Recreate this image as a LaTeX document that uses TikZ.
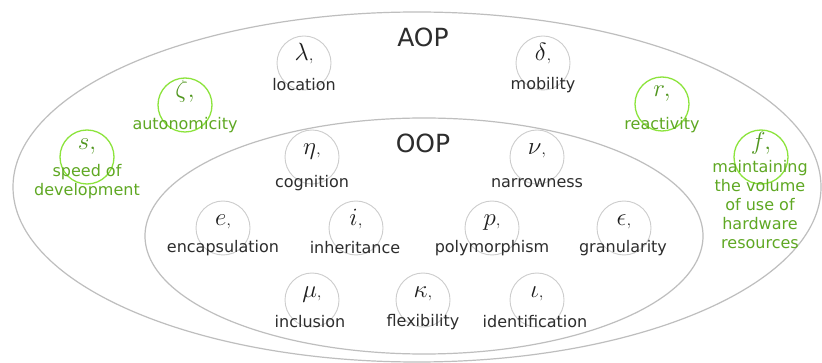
\documentclass[tikz,border=0pt]{standalone}
\usepackage{fontspec}
\setmainfont{DejaVu Sans}
\definecolor{ringgray}{RGB}{190,190,190}
\definecolor{circgray}{RGB}{205,205,205}
\definecolor{txtgray}{RGB}{45,45,45}
\definecolor{symgray}{RGB}{30,30,30}
\definecolor{leafgreen}{RGB}{140,228,60}
\definecolor{txtgreen}{RGB}{95,168,35}
\definecolor{symgreen}{RGB}{80,150,30}
\tikzset{
  ring/.style={draw=ringgray, line width=1.2pt},
  gcirc/.style={circle, draw=circgray, line width=0.9pt, minimum size=54pt, inner sep=0pt},
  ncirc/.style={circle, draw=leafgreen, line width=1.3pt, minimum size=54pt, inner sep=0pt},
  gsym/.style={inner sep=0pt, anchor=base, yshift=2pt, text=symgray, font=\fontsize{27}{30}\selectfont},
  nsym/.style={inner sep=0pt, anchor=base, yshift=7pt, text=symgreen, font=\fontsize{27}{30}\selectfont},
  glbl/.style={inner sep=0pt, text=txtgray, font=\fontsize{16}{19}\selectfont},
  nlbl/.style={inner sep=0pt, text=txtgreen, font=\fontsize{16}{19}\selectfont, align=center},
  title/.style={inner sep=0pt, text=txtgray, font=\fontsize{25}{28}\selectfont}
}
\newcommand{\gs}[1]{$#1{\scriptstyle,}$}
\newcommand{\ns}[1]{$#1,$}
\begin{document}
\begin{tikzpicture}[x=1pt, y=-1pt]
\useasboundingbox (0,0) rectangle (822,363);
\fill[white] (0,0) rectangle (822,363);
% the two paradigm ellipses
\draw[ring] (417,187) ellipse [x radius=404, y radius=175];
\draw[ring] (424,236) ellipse [x radius=279, y radius=118];
\node[title] (aop) at (423,37) {AOP};
\node[title] (oop) at (423,143) {OOP};

% AOP properties
\node[gcirc] (lam) at (304,63) {};
\node[gsym] at (lam.center) {\gs{\lambda}};
\node[glbl] (lamT) at (304,85) {location};
\node[gcirc] (del) at (543,63) {};
\node[gsym] at (del.center) {\gs{\delta}};
\node[glbl] (delT) at (543,85) {mobility};

% properties of the new approach
\node[ncirc] (zet) at (185,105) {};
\node[nsym] at (zet.center) {\ns{\zeta}};
\node[nlbl] (zetT) at (185,125) {autonomicity};
\node[ncirc] (rr) at (662,104) {};
\node[nsym] at (rr.center) {\ns{r}};
\node[nlbl] (rrT) at (662,125) {reactivity};
\node[ncirc] (ss) at (87,157) {};
\node[nsym] at (ss.center) {\ns{s}};
\node[nlbl, anchor=north] (ssT) at (87,164) {speed of\\development};
\node[ncirc] (ff) at (761,157) {};
\node[nsym] at (ff.center) {\ns{f}};
\node[nlbl, anchor=north] (ffT) at (760,160) {maintaining\\the volume\\of use of\\hardware\\resources};

% OOP properties
\node[gcirc] (eta) at (312,157) {};
\node[gsym] at (eta.center) {\gs{\eta}};
\node[glbl] (etaT) at (312,183) {cognition};
\node[gcirc] (nu) at (537,157) {};
\node[gsym] at (nu.center) {\gs{\nu}};
\node[glbl] (nuT) at (537,183) {narrowness};

\node[gcirc] (ee) at (223,228) {};
\node[gsym] at (ee.center) {\gs{e}};
\node[glbl] (eeT) at (223,248) {encapsulation};
\node[gcirc] (ii) at (356,228) {};
\node[gsym] at (ii.center) {\gs{i}};
\node[glbl] (iiT) at (355,248) {inheritance};
\node[gcirc] (pp) at (492,228) {};
\node[gsym] at (pp.center) {\gs{p}};
\node[glbl] (ppT) at (492,248) {polymorphism};
\node[gcirc] (eps) at (624,228) {};
\node[gsym] at (eps.center) {\gs{\epsilon}};
\node[glbl] (epsT) at (623,248) {granularity};

\node[gcirc] (mu) at (312,300) {};
\node[gsym] at (mu.center) {\gs{\mu}};
\node[glbl] (muT) at (310,322) {inclusion};
\node[gcirc] (kap) at (423,300) {};
\node[gsym] at (kap.center) {\gs{\kappa}};
\node[glbl] (kapT) at (423,322) {flexibility};
\node[gcirc] (iot) at (537,300) {};
\node[gsym] at (iot.center) {\gs{\iota}};
\node[glbl] (iotT) at (535,322) {identification};
\end{tikzpicture}
\end{document}
